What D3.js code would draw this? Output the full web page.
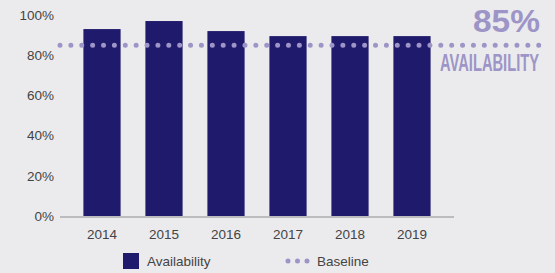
<!DOCTYPE html>
<html>
<head>
<meta charset="utf-8">
<script src="https://cdn.jsdelivr.net/npm/d3@7"></script>
<style>
  body { margin: 0; background: #ebebed; }
  svg { display: block; }
  .tick text { font: 13.5px "Liberation Sans", Arial, sans-serif; fill: #444; }
</style>
</head>
<body>
<div id="chart"></div>
<script>
const years = ["2014", "2015", "2016", "2017", "2018", "2019"]
const availability = [93, 97, 92, 89.5, 89.5, 89.5]
const baseline = 85
const yTicks = [0, 20, 40, 60, 80, 100]

const width = 555, height = 273
const margin = { top: 15, left: 60, bottom: 57 }
const plotBottom = height - margin.bottom

const svg = d3.select("#chart").append("svg")
    .attr("width", width)
    .attr("height", height)

svg.append("rect")
    .attr("width", width)
    .attr("height", height)
    .attr("fill", "#ebebed")

const x = d3.scaleBand()
    .domain(years)
    .range([71, 443])
    .paddingInner(0.4)
    .paddingOuter(0.2)

const y = d3.scaleLinear()
    .domain([0, 100])
    .range([plotBottom, margin.top])

// y axis labels only
const yaxis = d3.axisLeft(y)
    .tickValues(yTicks)
    .tickFormat(d => d + "%")
    .tickSize(0)
    .tickPadding(6)

svg.append("g")
    .attr("transform", "translate(" + margin.left + ",0)")
    .call(yaxis)
    .call(g => g.select(".domain").remove())

// bars
svg.selectAll("rect.bar")
    .data(availability)
    .enter()
    .append("rect")
    .attr("class", "bar")
    .attr("x", (d, i) => x(years[i]))
    .attr("width", x.bandwidth())
    .attr("y", d => y(d))
    .attr("height", d => plotBottom - y(d))
    .attr("fill", "#201a6d")

// x axis line
svg.append("line")
    .attr("x1", margin.left)
    .attr("x2", 454)
    .attr("y1", plotBottom + 1)
    .attr("y2", plotBottom + 1)
    .attr("stroke", "#bcbcbe")
    .attr("stroke-width", 2)

const xaxis = d3.axisBottom(x).tickSize(0).tickPadding(12)
svg.append("g")
    .attr("transform", "translate(0," + (plotBottom + 1) + ")")
    .call(xaxis)
    .call(g => g.select(".domain").remove())

// baseline dotted line
svg.append("line")
    .attr("x1", 60)
    .attr("x2", 539)
    .attr("y1", y(baseline))
    .attr("y2", y(baseline))
    .attr("stroke", "#9d95c7")
    .attr("stroke-width", 5)
    .attr("stroke-linecap", "round")
    .attr("stroke-dasharray", "0,10.88")

// big label
svg.append("text")
    .attr("x", 540)
    .attr("y", 32)
    .attr("text-anchor", "end")
    .attr("textLength", 67)
    .attr("lengthAdjust", "spacingAndGlyphs")
    .style("font", "bold 31px 'Liberation Sans', Arial, sans-serif")
    .attr("fill", "#9d95c7")
    .text(baseline + "%")

// condensed look: small font stretched vertically
svg.append("text")
    .attr("transform", "translate(440,71) scale(1,1.62)")
    .attr("textLength", 99)
    .attr("lengthAdjust", "spacingAndGlyphs")
    .style("font", "bold 15px 'Liberation Sans', Arial, sans-serif")
    .attr("fill", "#9d95c7")
    .text("AVAILABILITY")

// legend
const legend = svg.append("g")
    .style("font", "13.5px 'Liberation Sans', Arial, sans-serif")

legend.append("rect")
    .attr("x", 123)
    .attr("y", 253)
    .attr("width", 16)
    .attr("height", 16)
    .attr("fill", "#201a6d")

legend.append("text")
    .attr("x", 147)
    .attr("y", 266)
    .attr("fill", "#444")
    .text("Availability")

legend.append("line")
    .attr("x1", 288)
    .attr("x2", 308)
    .attr("y1", 261)
    .attr("y2", 261)
    .attr("stroke", "#9d95c7")
    .attr("stroke-width", 5)
    .attr("stroke-linecap", "round")
    .attr("stroke-dasharray", "0,9.5")

legend.append("text")
    .attr("x", 317)
    .attr("y", 266)
    .attr("fill", "#444")
    .text("Baseline")
</script>
</body>
</html>
